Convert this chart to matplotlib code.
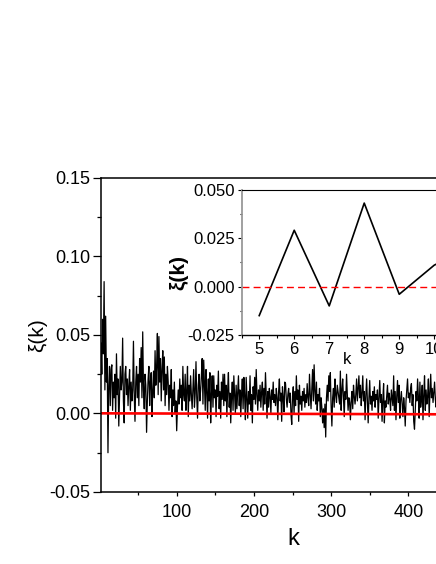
"""Correlation xi(k) vs lag k, with an inset zoom on the first lags."""

import numpy as np
import matplotlib
matplotlib.use("Agg")
import matplotlib.pyplot as plt
from matplotlib.ticker import MultipleLocator, FormatStrFormatter

plt.rcParams["font.family"] = ["Liberation Sans", "DejaVu Sans"]
plt.rcParams["axes.unicode_minus"] = False

# Main series (values in units of 1e-3), k = 1..440.
xi_milli = [
    30, 45, 25, 60, 38, 84, 15, 62, 20, 35,
    -25, 18, 30, 5, 28, 31, 2, 20, 10, 25,
    -3, 38, 12, 22, -8, 10, 30, 15, 20, 48,
    8, -6, 25, 30, 12, 22, 5, 18, 28, 2,
    20, 8, 15, 46, 12, -5, 20, 30, 10, 25,
    5, 35, 20, 42, 10, 52, 15, 3, 25, 18,
    -12, 8, 22, 30, 5, 20, 26, -2, 15, 27,
    10, 40, 18, 30, 51, 12, 49, 20, 35, 8,
    28, 40, 15, 36, 5, 25, 12, 30, 20, 2,
    18, 10, 28, -2, 15, 5, 20, 0, 8, -11,
    4, 15, 6, 22, 10, 18, 2, 30, 12, 8,
    25, 2, 14, 30, -2, 18, 8, 24, 12, 3,
    16, 28, 4, 13, 33, 10, -3, 18, 25, 8,
    15, 24, 35, 6, 34, 18, 2, 28, 14, -3,
    22, 8, 26, -6, 12, 24, 4, 24, 10, 15,
    -2, 18, 11, 27, 3, 14, -3, 20, 9, 25,
    5, 25, 8, 18, -2, 15, 26, 4, 13, -6,
    10, 20, 2, 24, 12, 0, 18, 3, 14, 24,
    5, 15, -2, 12, 22, 3, 23, 11, -4, 23,
    10, -3, 14, 6, 24, 2, 12, -6, 17, 9,
    23, 6, 28, 12, 2, 15, 8, 18, 4, 14,
    20, 2, 16, 6, 26, 12, -3, 14, 4, 16,
    11, 0, 15, 9, 20, 7, 12, 5, 16, 10,
    -4, 14, 22, 8, 13, -5, 17, 10, 1, 20,
    19, 9, 4, 12, 16, 7, 13, 0, -7, 11,
    17, 0, 14, 5, 24, 9, 15, -5, 18, 6,
    11, 2, 14, 8, 16, 4, 12, 7, 19, 10,
    5, 25, 12, 3, 16, 28, 8, 31, 14, 6,
    20, 2, 12, 8, 16, -2, 10, 4, -6, 3,
    -9, 6, -15, 10, 18, 8, 24, 14, 26, 5,
    -8, 10, 16, 4, 22, 12, 7, 18, 14, 10,
    6, 27, 2, 15, 22, 10, -2, 14, 9, 25,
    12, 2, 10, 7, -4, 8, 14, 3, 18, 11,
    6, 12, 22, 8, 16, 24, 10, 18, 5, 13,
    24, 8, 14, -4, 12, 22, 7, -6, 10, 21,
    6, 11, 2, 14, 8, 17, 4, 12, 9, 15,
    -3, 10, 21, 7, 12, -5, 9, 19, -6, 8,
    4, 11, 18, 6, 13, 9, 2, 15, 10, 5,
    24, 2, 14, -4, 11, 21, 7, 18, -3, 9,
    14, 6, -2, 10, 4, -8, 8, 15, 22, 10,
    13, 7, 16, 19, 5, 12, -5, -10, 2, 14,
    8, 22, 11, -3, 20, 4, 9, 18, -4, 12,
    24, 2, 15, 6, 11, 22, -2, 13, 25, 10,
    16, 7, 14, 20, 9, 4, 15, 12, 18, 8,
]
k_main = np.arange(1, len(xi_milli) + 1)
xi_main = np.array(xi_milli) * 1e-3

# red reference line (nearly flat fit through zero)
fit_k = [2, 500]
fit_xi = [0.0001, -0.0006]

# inset: first lags
k_inset = [5, 6, 7, 8, 9, 10, 11]
xi_inset = [-0.015, 0.029, -0.010, 0.043, -0.004, 0.011, 0.020]

fig = plt.figure(figsize=(4.36, 5.64), dpi=100)

# main axes (right part falls outside the figure, as in the original crop)
ax = fig.add_axes([0.2317, 0.1277, 0.8819, 0.5567])
ax.plot(k_main, xi_main, color="black", lw=0.9)
ax.plot(fit_k, fit_xi, color="red", lw=1.9)
ax.set_xlim(2, 500)
ax.set_ylim(-0.05, 0.15)
ax.xaxis.set_major_locator(MultipleLocator(100))
ax.xaxis.set_minor_locator(MultipleLocator(50))
ax.yaxis.set_major_locator(MultipleLocator(0.05))
ax.yaxis.set_minor_locator(MultipleLocator(0.025))
ax.yaxis.set_major_formatter(FormatStrFormatter("%.2f"))
ax.tick_params(axis="y", which="major", length=5.5, width=0.9, pad=2, labelsize=13)
ax.tick_params(axis="y", which="minor", length=2.7, width=0.9)
ax.tick_params(axis="x", which="major", length=3, width=0.9, pad=6, labelsize=13)
ax.tick_params(axis="x", which="minor", length=2.5, width=0.9)
for s in ax.spines.values():
    s.set_linewidth(1.1)
ax.set_xlabel("k", fontsize=17)
ax.xaxis.set_label_coords(0.5, -0.115)
ax.set_ylabel("ξ(k)", fontsize=15)
ax.yaxis.set_label_coords(-0.14, 0.5)

# inset
ins = fig.add_axes([0.5544, 0.4060, 0.4817, 0.2580])
ins.plot(k_inset, xi_inset, color="black", lw=1.2)
ins.axhline(0, color="red", lw=1.0, ls=(0, (5, 3)))
ins.set_xlim(4.5, 10.5)
ins.set_ylim(-0.025, 0.050)
ins.xaxis.set_major_locator(MultipleLocator(1))
ins.xaxis.set_minor_locator(MultipleLocator(0.5))
ins.yaxis.set_major_locator(MultipleLocator(0.025))
ins.yaxis.set_minor_locator(MultipleLocator(0.0125))
ins.yaxis.set_major_formatter(FormatStrFormatter("%.3f"))
ins.tick_params(which="major", length=3, width=0.8, pad=2, labelsize=12)
ins.tick_params(which="minor", length=1.8, width=0.8)
ins.spines["left"].set_color("#999999")
ins.spines["left"].set_linewidth(1.3)
ins.spines["top"].set_linewidth(0.8)
ins.spines["bottom"].set_linewidth(1.0)
ins.set_xlabel("k", fontsize=12)
ins.xaxis.set_label_coords(0.5, -0.12)
ins.set_ylabel("ξ(k)", fontsize=15, fontweight="bold")
ins.yaxis.set_label_coords(-0.255, 0.433)

fig.savefig("out.png", dpi=100)
